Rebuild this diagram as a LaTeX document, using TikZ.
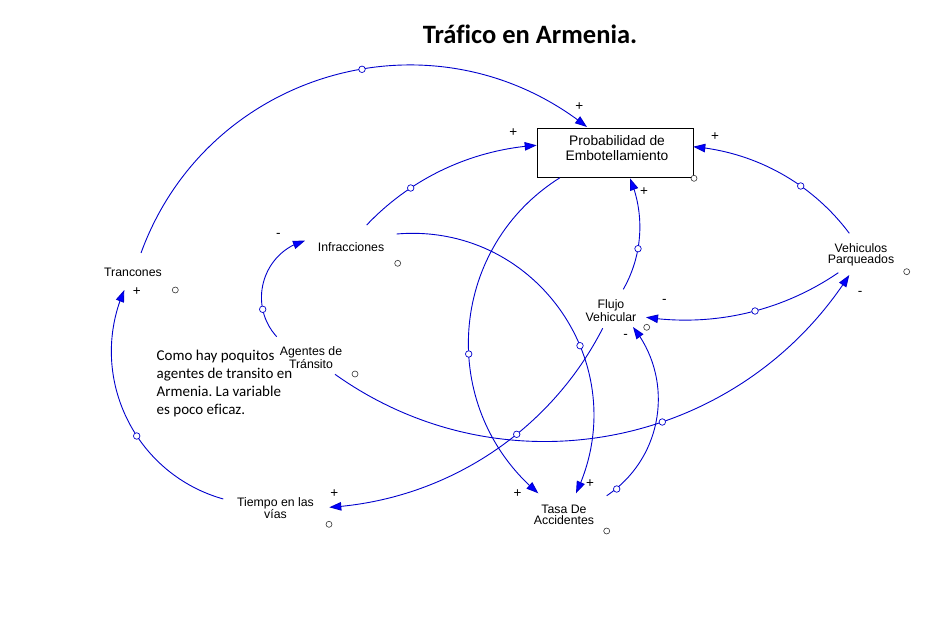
\documentclass[tikz,border=0pt]{standalone}
\usepackage{fontspec}
\setmainfont{Liberation Sans}
\newfontfamily\calibrifont[Ligatures=NoCommon]{Carlito}
\usetikzlibrary{arrows.meta,bending,calc}
\definecolor{linkblue}{RGB}{0,0,205}
\definecolor{tipblue}{RGB}{0,0,255}
\frenchspacing
\begin{document}
\begin{tikzpicture}[x=1pt,y=-1pt,
  lbl/.style={align=center,font=\fontsize{12.3}{11}\selectfont,inner sep=0pt},
  box/.style={draw,line width=0.6pt,minimum width=156pt,minimum height=49pt,inner sep=0pt},
  link/.style={draw=linkblue,line width=0.9pt,-{Triangle[length=12pt,width=8.5pt,fill=tipblue]}},
  pol/.style={font=\fontsize{13.5}{13.5}\selectfont,inner sep=0pt},
  handle/.style={circle,draw=linkblue,fill=white,line width=0.7pt,minimum size=6.5pt,inner sep=0pt},
  dot/.style={circle,draw=black!80,fill=white,line width=0.6pt,minimum size=6pt,inner sep=0pt}]
\fill[white] (0,0) rectangle (940,628);
\useasboundingbox (0,0) rectangle (940,628);

% title
\node[font=\calibrifont\bfseries\fontsize{26.5}{30}\selectfont,anchor=base,inner sep=0pt] (title) at (530,43.3) {Tráfico en Armenia.};

% variables
\node[box] (prob) at (615.3,152.8) {};
\node[lbl,font=\fontsize{13.8}{15}\selectfont] (probtxt) at (617,148.2) {Probabilidad de\\Embotellamiento};
\node[lbl] (tran) at (133,272.5) {Trancones};
\node[lbl] (infr) at (351,247) {Infracciones};
\node[lbl] (veh) at (861,255) {Vehiculos\\Parqueados};
\node[lbl] (flujo) at (611,310.5) {Flujo\\Vehicular};
\node[lbl] (agen) at (311,357.5) {Agentes de\\Tránsito};
\node[lbl] (tiem) at (275.5,508) {Tiempo en las\\vías};
\node[lbl] (tasa) at (564,514.5) {Tasa De\\Accidentes};

% comment
\node[font=\calibrifont\fontsize{15}{18}\selectfont,align=left,anchor=north west,inner sep=0pt] (note) at (156.5,349.6)
  {Como hay poquitos\\agentes de transito en\\Armenia. La variable\\es poco eficaz.};

% links
\draw[link] ($(tran)+(8,-19.5)$) .. controls +(66.7,-183.2) and +(-152.5,-121.3) .. ($(prob)+(-28.3,-25.8)$);
\draw[link] ($(infr)+(15.7,-22)$) .. controls +(44.7,-47.1) and +(-64.8,4.3) .. ($(prob)+(-78.6,-7.5)$);
\draw[link] ($(veh)+(-11.7,-21.7)$) .. controls +(-37.3,-49.9) and +(62.1,5.3) .. ($(prob)+(78,-6.1)$);
\draw[link] ($(flujo)+(12.3,-21.2)$) .. controls +(19.4,-34.0) and +(15.2,36.0) .. ($(prob)+(14.7,25.5)$);
\draw[link] ($(prob)+(-55.3,24.9)$) .. controls +(-112.5,70.6) and +(-101.7,-85.4) .. ($(tasa)+(-25.7,-21.2)$);
\draw[link] ($(infr)+(45.7,-13)$) .. controls +(139.9,-11.8) and +(60.4,-126.7) .. ($(tasa)+(12,-21.2)$);
\draw[link] ($(tasa)+(42.7,-18.8)$) .. controls +(56.5,-37.7) and +(42.4,53.1) .. ($(flujo)+(22,16.5)$);
\draw[link] ($(veh)+(-22.7,17.7)$) .. controls +(-56.3,38.6) and +(67.5,9.8) .. ($(flujo)+(35,6.8)$);
\draw[link] ($(agen)+(24,16.8)$) .. controls +(168.3,120.0) and +(-111.4,174.1) .. ($(veh)+(-11.7,20)$);
\draw[link] ($(flujo)+(-8.3,17.8)$) .. controls +(-53.1,103.7) and +(116.3,-7.2) .. ($(tiem)+(53.8,-0.7)$);
\draw[link] ($(agen)+(-34.3,-20.8)$) .. controls +(-29.5,-32.5) and +(-42.4,11.2) .. ($(infr)+(-46,-6.3)$);
\draw[link] ($(tiem)+(-52.2,-9)$) .. controls +(-89.6,-25.2) and +(-37.4,85.3) .. ($(tran)+(-8.7,17.5)$);

% handles on links
\node[handle] (h1) at (362,69.3) {};
\node[handle] (h2) at (410.7,188) {};
\node[handle] (h3) at (800.7,186) {};
\node[handle] (h4) at (638,248.7) {};
\node[handle] (h5) at (468.7,354) {};
\node[handle] (h6) at (580,345.7) {};
\node[handle] (h7) at (616.7,489) {};
\node[handle] (h8) at (755,311) {};
\node[handle] (h9) at (662.3,422) {};
\node[handle] (h10) at (516.7,434.3) {};
\node[handle] (h11) at (262.7,309.3) {};
\node[handle] (h12) at (136.7,436) {};

% variable dots
\node[dot] (dprob) at (694,178.3) {};
\node[dot] (dtran) at (175.3,290) {};
\node[dot] (dinfr) at (397.7,263.3) {};
\node[dot] (dveh) at (906.7,271.7) {};
\node[dot] (dflujo) at (646.7,327.3) {};
\node[dot] (dagen) at (355,374) {};
\node[dot] (dtiem) at (329,524.3) {};
\node[dot] (dtasa) at (606.7,531) {};

% polarities
\node[pol] (p1) at (579.3,106.7) {+};
\node[pol] (p2) at (513.3,132.3) {+};
\node[pol] (p3) at (715,136.7) {+};
\node[pol] (p4) at (644,191.3) {+};
\node[pol] (p5) at (517.5,493.3) {+};
\node[pol] (p6) at (590,483.7) {+};
\node[pol] (p7) at (625.5,336.5) {-};
\node[pol] (p8) at (664.3,301) {-};
\node[pol] (p9) at (860,293) {-};
\node[pol] (p10) at (334.3,493.3) {+};
\node[pol] (p11) at (278.3,235) {-};
\node[pol] (p12) at (136.7,292) {+};
\end{tikzpicture}
\end{document}
